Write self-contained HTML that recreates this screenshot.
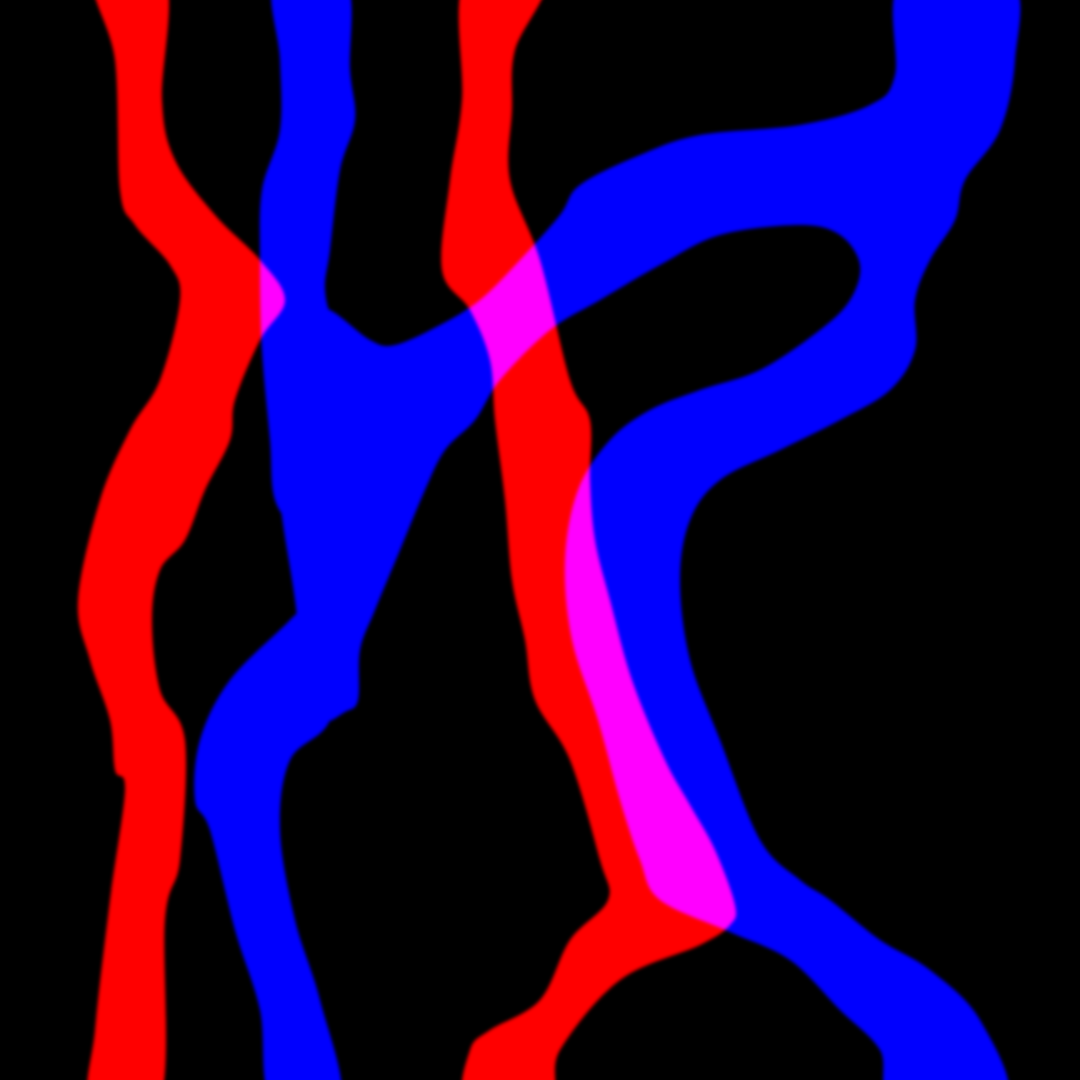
<!DOCTYPE html>
<html>
<head>
<meta charset="utf-8">
<style>
  html,body{margin:0;padding:0;background:#000;}
  svg{display:block;}
</style>
</head>
<body>
<svg id="art" width="1080" height="1080" viewBox="0 0 1080 1080" xmlns="http://www.w3.org/2000/svg">
  <defs>
    <filter id="soft" x="-10%" y="-10%" width="120%" height="120%">
      <feGaussianBlur stdDeviation="1.8"/>
    </filter>
  </defs>
  <rect width="1080" height="1080" fill="#000"/>
  <g id="red" filter="url(#soft)"></g>
  <g id="blue" filter="url(#soft)" style="mix-blend-mode:screen"></g>
</svg>
<script>
const red1Left = [[95,-20],[115,60],[120,190],[135,225],[170,265],[180,300],[160,380],[130,430],[100,500],[78,600],[90,660],[110,720],[115,770],[125,790],[110,900],[95,1030],[92,1100]];
const red1Right = [[165,-20],[162,100],[175,160],[215,215],[260,260],[285,300],[260,340],[235,400],[230,440],[205,490],[185,540],[160,570],[152,620],[160,690],[185,740],[180,860],[165,920],[160,1100]];
const red2Left = [[465,-20],[462,100],[450,180],[442,270],[470,310],[490,360],[495,420],[505,500],[512,580],[525,640],[535,700],[570,760],[600,860],[608,900],[570,940],[540,1000],[490,1030],[470,1050],[468,1100]];
const red2Right = [[545,-20],[515,50],[512,110],[510,180],[540,260],[570,380],[590,420],[590,480],[595,540],[610,600],[632,680],[665,760],[690,805],[715,850],[735,905],[730,925],[700,945],[620,980],[560,1050],[548,1100]];
const blueLeftL = [[275,-20],[280,60],[280,130],[262,190],[260,260],[262,350],[270,440],[275,500],[300,540],[315,590],[290,620],[230,680],[200,740],[195,800],[210,830],[235,930],[260,1010],[272,1100]];
const blueLeftR = [[345,-20],[350,70],[355,120],[340,170],[330,250],[325,290],[335,330],[360,400],[345,520],[340,640],[330,720],[290,760],[280,830],[295,920],[320,1000],[340,1100]];
const blueNet = [[330,310],[370,340],[395,345],[440,325],[480,300],[520,260],[560,215],[580,185],[640,155],[700,135],[800,125],[870,105],[895,75],[902,-20],[1010,-20],[1015,60],[1000,130],[965,180],[955,220],[930,260],[915,300],[915,350],[890,390],[840,420],[780,450],[720,480],[690,520],[680,580],[690,660],[720,740],[760,840],[800,880],[830,900],[880,940],[930,970],[980,1020],[1005,1100],[895,1100],[880,1050],[840,1010],[790,960],[730,932],[660,900],[640,860],[620,800],[598,720],[572,640],[565,560],[578,490],[610,440],[650,410],[700,390],[760,370],[820,330],[850,300],[860,265],[840,235],[800,225],[720,235],[660,265],[600,300],[550,330],[500,380],[475,420],[445,450],[425,490],[400,550],[375,610],[360,650],[358,700],[345,712],[320,722],[305,690],[295,600],[280,500],[275,400],[280,340],[300,305]];

function closedPath(pts){
  const n=pts.length;
  let d='M'+pts[0][0]+','+pts[0][1];
  for(let i=0;i<n;i++){
    const p0=pts[(i-1+n)%n],p1=pts[i],p2=pts[(i+1)%n],p3=pts[(i+2)%n];
    const c1=[p1[0]+(p2[0]-p0[0])/6,p1[1]+(p2[1]-p0[1])/6];
    const c2=[p2[0]-(p3[0]-p1[0])/6,p2[1]-(p3[1]-p1[1])/6];
    d+=' C'+c1[0].toFixed(1)+','+c1[1].toFixed(1)+' '+c2[0].toFixed(1)+','+c2[1].toFixed(1)+' '+p2[0]+','+p2[1];
  }
  return d+'Z';
}
function addShape(groupId, pts, color, name){
  const g=document.getElementById(groupId);
  const p=document.createElementNS('http://www.w3.org/2000/svg','path');
  p.setAttribute('d',closedPath(pts));
  p.setAttribute('fill',color);
  
  
  g.appendChild(p);
}
addShape('red', red1Left.concat(red1Right.slice().reverse()), '#ff0000', 'red-stroke-left');
addShape('red', red2Left.concat(red2Right.slice().reverse()), '#ff0000', 'red-stroke-middle');
addShape('blue', blueLeftL.concat(blueLeftR.slice().reverse()), '#0000ff', 'blue-stroke-left');
addShape('blue', blueNet, '#0000ff', 'blue-stroke-network');
</script>
</body>
</html>
